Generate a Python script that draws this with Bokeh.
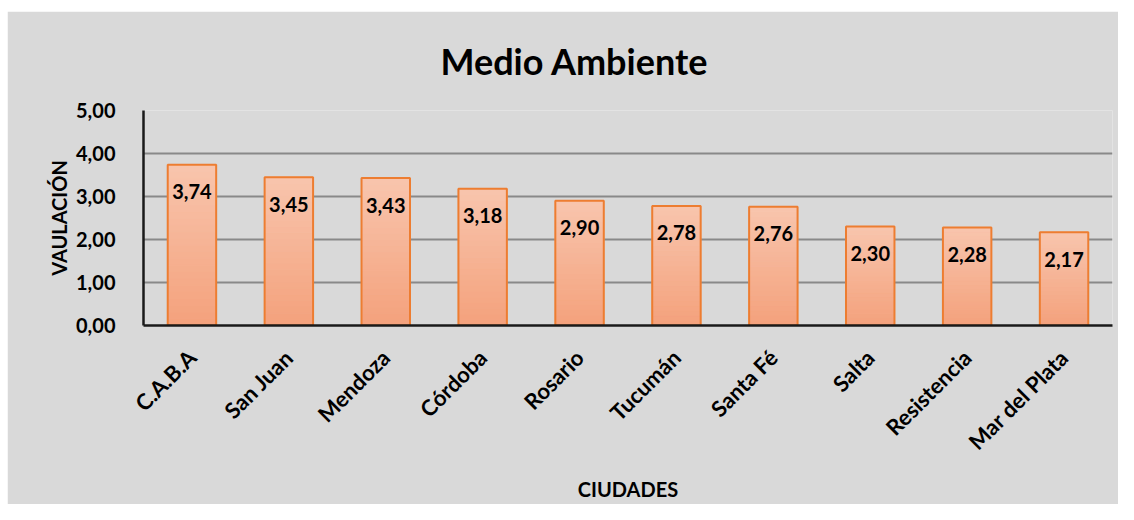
from bokeh.plotting import figure
from bokeh.models import FactorRange, Range1d, FixedTicker, ColumnDataSource, Spacer
from bokeh.layouts import column, row
from bokeh.core.properties import value
from bokeh.embed import file_html
from bokeh.resources import INLINE
import math

title_text = "Medio Ambiente"
cities = ["C.A.B.A", "San Juan", "Mendoza", "Córdoba", "Rosario", "Tucumán",
          "Santa Fé", "Salta", "Resistencia", "Mar del Plata"]
scores = [3.74, 3.45, 3.43, 3.18, 2.90, 2.78, 2.76, 2.30, 2.28, 2.17]
score_labels = ["3,74", "3,45", "3,43", "3,18", "2,90", "2,78", "2,76", "2,30", "2,28", "2,17"]
y_ticks = [0, 1, 2, 3, 4, 5]
y_tick_labels = ["0,00", "1,00", "2,00", "3,00", "4,00", "5,00"]

FONT = "Lato"
BG = "#D9D9D9"

p = figure(width=1111, height=493, x_range=FactorRange(*cities), y_range=Range1d(0, 5),
           output_backend="svg", toolbar_location=None,
           min_border_left=136, min_border_right=6, min_border_top=99, min_border_bottom=179)
p.background_fill_color = BG
p.border_fill_color = BG
p.outline_line_color = None

p.title.text = title_text
p.title.align = "left"
p.title.offset = 297
p.title.vertical_align = "top"
p.title.standoff = 52
p.title.text_font = FONT
p.title.text_font_size = "36px"
p.title.text_font_style = "bold"
p.title.text_color = "#000000"

# gradient bars built as stacked slices of each bar
N = 24
top_c = (0xF8, 0xC4, 0xAC)
bot_c = (0xF4, 0xA2, 0x7D)
xs, bottoms, tops, colors = [], [], [], []
for c, v in zip(cities, scores):
    for k in range(N):
        t = k / (N - 1)
        xs.append(c)
        bottoms.append(v * k / N)
        tops.append(v * (k + 1) / N)
        col = tuple(round(bot_c[i] + (top_c[i] - bot_c[i]) * t) for i in range(3))
        colors.append("#%02X%02X%02X" % col)
p.vbar(x=xs, bottom=bottoms, top=tops, width=0.5, fill_color=colors, line_color=colors,
       line_width=1)
p.vbar(x=cities, top=scores, width=0.5, fill_alpha=0, line_color="#ED7D31", line_width=2)

src = ColumnDataSource(dict(x=cities, y=scores, t=score_labels))
p.text(x="x", y="y", text="t", source=src, text_align="center", text_baseline="middle",
       y_offset=27, text_font=value(FONT), text_font_style="bold", text_font_size="20px",
       text_color="#000000")

p.ygrid.grid_line_color = "#898989"
p.ygrid.grid_line_width = 2
p.xgrid.grid_line_color = None

p.yaxis.ticker = FixedTicker(ticks=y_ticks)
p.yaxis.major_label_overrides = {t: l for t, l in zip(y_ticks, y_tick_labels)}

for ax in (p.xaxis[0], p.yaxis[0]):
    ax.axis_line_color = "#1A1A1A"
    ax.axis_line_width = 2.5
    ax.major_tick_line_color = None
    ax.minor_tick_line_color = None
    ax.major_label_text_font = FONT
    ax.major_label_text_font_style = "bold"
    ax.major_label_text_color = "#000000"
    ax.axis_label_text_font = FONT
    ax.axis_label_text_font_style = "bold"
    ax.axis_label_text_color = "#000000"

p.yaxis.major_label_text_font_size = "20px"
p.yaxis.major_label_standoff = 22
p.yaxis.axis_label = "VAULACIÓN"
p.yaxis.axis_label_text_font_size = "20px"
p.yaxis.axis_label_standoff = 2

p.xaxis.major_label_orientation = math.pi / 4
p.xaxis.major_label_text_font_size = "22px"
p.xaxis.major_label_standoff = 22
p.xaxis.axis_label = "CIUDADES"
p.xaxis.axis_label_text_font_size = "20px"
p.xaxis.axis_label_standoff = 10

layout = column(Spacer(height=11), row(Spacer(width=7), p))
open("out.html", "w").write(file_html(layout, INLINE))
